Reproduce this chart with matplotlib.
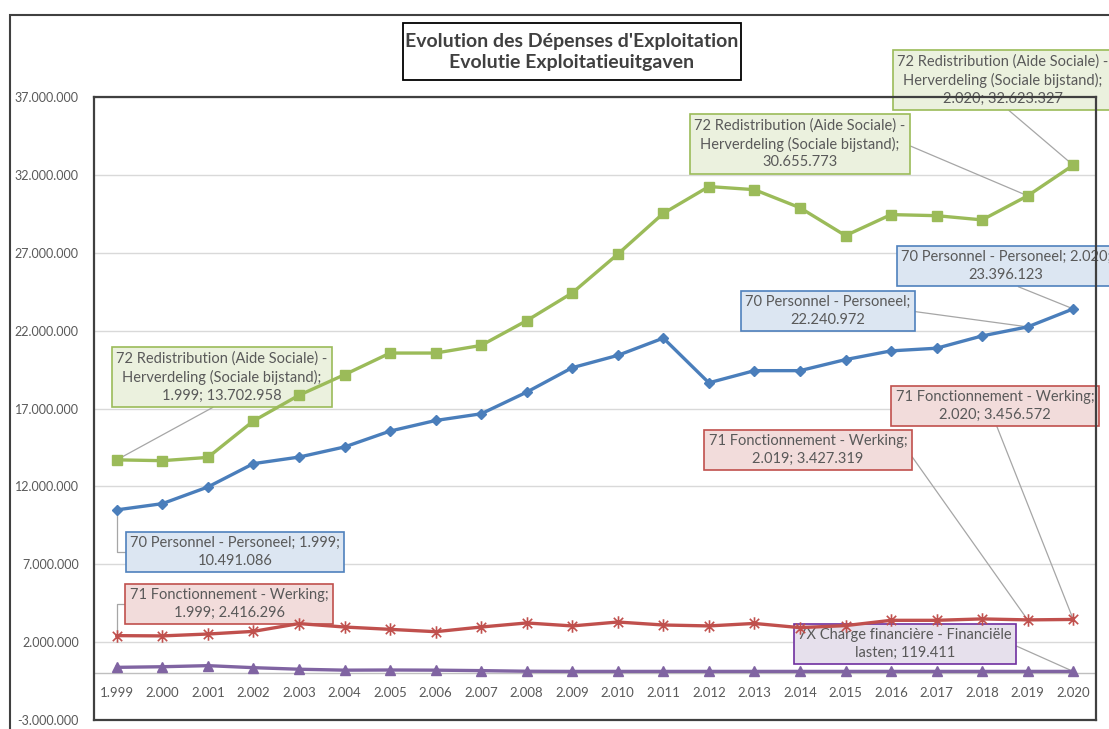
import matplotlib.pyplot as plt
import numpy as np
from matplotlib.patches import Rectangle
from matplotlib.path import Path

# Data
years = ['1.999', '2.000', '2.001', '2.002', '2.003', '2.004', '2.005', '2.006', '2.007', '2.008', '2.009',
         '2.010', '2.011', '2.012', '2.013', '2.014', '2.015', '2.016', '2.017', '2.018', '2.019', '2.020']

personnel = [10491086, 10890000, 11960000, 13460000, 13880000, 14530000, 15550000, 16230000, 16660000, 18050000,
             19620000, 20410000, 21520000, 18650000, 19430000, 19430000, 20140000, 20700000, 20870000, 21660000,
             22240972, 23396123]
fonctionnement = [2416296, 2400000, 2520000, 2690000, 3190000, 2970000, 2820000, 2670000, 2970000, 3230000,
                  3040000, 3290000, 3100000, 3040000, 3200000, 2930000, 3060000, 3400000, 3400000, 3490000,
                  3427319, 3456572]
redistribution = [13702958, 13650000, 13860000, 16200000, 17850000, 19170000, 20560000, 20560000, 21050000, 22640000,
                  24420000, 26910000, 29530000, 31250000, 31050000, 29890000, 28100000, 29450000, 29380000, 29110000,
                  30655773, 32623327]
charges = [380000, 420000, 490000, 360000, 260000, 200000, 210000, 200000, 170000, 130000, 120000,
           120000, 120000, 120000, 120000, 120000, 120000, 120000, 120000, 120000, 120000, 119411]

yticks = [-3000000, 2000000, 7000000, 12000000, 17000000, 22000000, 27000000, 32000000, 37000000]

W, H = 1109, 729
plt.rcParams['font.family'] = ['Lato', 'DejaVu Sans']
txt = '#595959'

fig = plt.figure(figsize=(W / 100, H / 100), dpi=100)
ax = fig.add_axes([94 / W, (H - 720) / H, (1096 - 94) / W, (720 - 97) / H])

x = np.arange(len(years))

def fmt(v):
    return '{:,}'.format(v).replace(',', '.')

# Excel-style star marker: an x with a vertical bar
star = Path([(0, -1), (0, 1), (-0.75, -0.75), (0.75, 0.75), (-0.75, 0.75), (0.75, -0.75)],
            [Path.MOVETO, Path.LINETO, Path.MOVETO, Path.LINETO, Path.MOVETO, Path.LINETO])

# Lines
ax.plot(x, personnel, color='#4A7EBB', lw=2.4, marker='D', ms=5.5, zorder=4)
ax.plot(x, fonctionnement, color='#C0504D', lw=2.4, marker=star, ms=9, mew=1.2, zorder=4)
ax.plot(x, redistribution, color='#9BBB59', lw=2.4, marker='s', ms=7.5, zorder=4)
ax.plot(x, charges, color='#8064A2', lw=2.4, marker='^', ms=7, zorder=4)

ax.set_xlim(-0.5, len(years) - 0.5)
ax.set_ylim(-3000000, 37000000)
ax.set_yticks(yticks)
ax.set_yticklabels([fmt(v) for v in yticks], color=txt, fontsize=9)
ax.tick_params(axis='y', length=0, pad=11)
ax.set_xticks([])
for i, lab in enumerate(years):
    ax.text(i, -1250000, lab, ha='center', va='center', color=txt, fontsize=9.5)

ax.grid(axis='y', color='#D9D9D9', lw=1)
ax.axhline(0, color='#BFBFBF', lw=1, zorder=2)
for s in ax.spines.values():
    s.set_color('#404040')
    s.set_linewidth(1.6)
    s.set_zorder(3.5)

# Data label callouts
def callout(i, vals, label, xc, yc, fc, ec, rel=(0.5, 0.5), conn='arc3'):
    ax.annotate(label, xy=(i, vals[i]), xytext=(xc, H - yc), textcoords='figure pixels',
                ha='center', va='center', color=txt, fontsize=10.5, linespacing=1.32, zorder=3,
                bbox=dict(boxstyle='square,pad=0.3', fc=fc, ec=ec, lw=1.2),
                arrowprops=dict(arrowstyle='-', color='#A6A6A6', lw=0.9, relpos=rel,
                                connectionstyle=conn, shrinkA=0, shrinkB=0))

green_fc, green_ec = '#EBF1DE', '#9BBB59'
blue_fc, blue_ec = '#DCE6F2', '#4F81BD'
red_fc, red_ec = '#F2DCDB', '#C0504D'
purple_fc, purple_ec = '#E6E0EC', '#7030A0'
elbow = 'angle,angleA=180,angleB=90,rad=0'

callout(0, redistribution, '72 Redistribution (Aide Sociale) -\nHerverdeling (Sociale bijstand);\n1.999; '
        + fmt(redistribution[0]), 222, 377, green_fc, green_ec, (0.5, 0))
callout(20, redistribution, '72 Redistribution (Aide Sociale) -\nHerverdeling (Sociale bijstand);\n'
        + fmt(redistribution[20]), 800, 144, green_fc, green_ec, (1, 0.5))
callout(21, redistribution, '72 Redistribution (Aide Sociale) -\nHerverdeling (Sociale bijstand);\n2.020; '
        + fmt(redistribution[21]), 1003, 80, green_fc, green_ec, (0.5, 0))
callout(0, personnel, '70 Personnel - Personeel; 1.999;\n' + fmt(personnel[0]), 235, 552, blue_fc, blue_ec,
        conn=elbow)
callout(20, personnel, '70 Personnel - Personeel;\n' + fmt(personnel[20]), 828, 311, blue_fc, blue_ec, (1, 0.5))
callout(21, personnel, '70 Personnel - Personeel; 2.020;\n' + fmt(personnel[21]), 1006, 266, blue_fc, blue_ec,
        (0.5, 0))
callout(0, fonctionnement, '71 Fonctionnement - Werking;\n1.999; ' + fmt(fonctionnement[0]), 229, 604,
        red_fc, red_ec, conn=elbow)
callout(20, fonctionnement, '71 Fonctionnement - Werking;\n2.019; ' + fmt(fonctionnement[20]), 808, 450,
        red_fc, red_ec, (1, 0.5))
callout(21, fonctionnement, '71 Fonctionnement - Werking;\n2.020; ' + fmt(fonctionnement[21]), 995, 406,
        red_fc, red_ec, (0.5, 0))
callout(21, charges, '7X Charge financière - Financiële\nlasten; ' + fmt(charges[21]), 905, 644,
        purple_fc, purple_ec, (1, 0.5))

# Chart area border and title box
fig.patches.append(Rectangle((10 / W, -0.1), 1.2, (H - 15) / H + 0.1, transform=fig.transFigure,
                             fill=False, ec='#404040', lw=1.5, clip_on=False))
fig.patches.append(Rectangle((403 / W, (H - 80) / H), (741 - 403) / W, 57 / H, transform=fig.transFigure,
                             fc='white', ec='black', lw=1.3))
fig.text(572 / W, (H - 52) / H, "Evolution des Dépenses d'Exploitation\nEvolutie Exploitatieuitgaven",
         ha='center', va='center', fontsize=14, fontweight='bold', color='#404040', linespacing=1.3)

plt.savefig('out.png', dpi=100)
